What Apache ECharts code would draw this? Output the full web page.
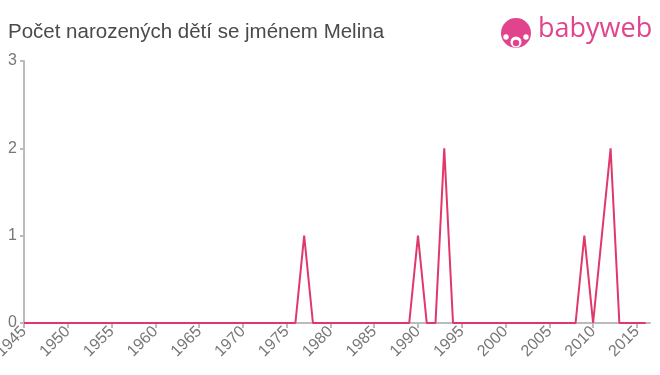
<!DOCTYPE html>
<html>
<head>
<meta charset="utf-8">
<script src="https://cdn.jsdelivr.net/npm/echarts@6/dist/echarts.min.js"></script>
<style>html,body{margin:0;padding:0;background:#fff;}#c{width:660px;height:375px;}</style>
</head>
<body>
<div id="c"></div>
<script>
var titleText = "Počet narozených dětí se jménem Melina";
var years = [1945,1946,1947,1948,1949,1950,1951,1952,1953,1954,
             1955,1956,1957,1958,1959,1960,1961,1962,1963,1964,
             1965,1966,1967,1968,1969,1970,1971,1972,1973,1974,
             1975,1976,1977,1978,1979,1980,1981,1982,1983,1984,
             1985,1986,1987,1988,1989,1990,1991,1992,1993,1994,
             1995,1996,1997,1998,1999,2000,2001,2002,2003,2004,
             2005,2006,2007,2008,2009,2010,2011,2012,2013,2014,
             2015,2016];
var counts = [0,0,0,0,0,0,0,0,0,0,
              0,0,0,0,0,0,0,0,0,0,
              0,0,0,0,0,0,0,0,0,0,
              0,0,1,0,0,0,0,0,0,0,
              0,0,0,0,0,1,0,0,2,0,
              0,0,0,0,0,0,0,0,0,0,
              0,0,0,0,1,0,1,2,0,0,
              0,0];
var yTicks = [0,1,2,3];

var chart = echarts.init(document.getElementById('c'));
var font = "'Liberation Sans', Arial, sans-serif";
var pink = '#e2438d';
chart.setOption({
  animation: false,
  title: {
    text: titleText, left: 3, top: 17,
    textStyle: {fontFamily: font, fontSize: 20.5, fontWeight: 'normal', color: '#4a4a4a'}
  },
  grid: {left: 24, right: 10, top: 61, bottom: 52, containLabel: false, outerBoundsMode: 'none'},
  xAxis: {
    type: 'value', min: 1945, max: 2016.5, interval: 5,
    axisLine: {lineStyle: {color: '#bbb', width: 2}},
    axisTick: {show: true, length: 5, lineStyle: {color: '#bbb', width: 2}},
    splitLine: {show: false},
    axisLabel: {rotate: 45, color: '#777', fontSize: 16, fontFamily: font, margin: 6,
      showMaxLabel: false, formatter: function(v){ return String(v); }}
  },
  yAxis: {
    type: 'value', min: yTicks[0], max: yTicks[yTicks.length-1], interval: 1,
    axisLine: {show: true, lineStyle: {color: '#bbb', width: 2}},
    axisTick: {show: true, length: 4, lineStyle: {color: '#bbb', width: 2}},
    splitLine: {show: false},
    axisLabel: {color: '#777', fontSize: 16, fontFamily: font, margin: 7}
  },
  series: [{
    type: 'line',
    data: years.map(function(y, i){ return [y, counts[i]]; }),
    symbol: 'none',
    lineStyle: {color: '#e0386b', width: 2},
    z: 3
  }],
  graphic: [
    {type: 'circle', shape: {cx: 516, cy: 33, r: 15}, style: {fill: pink}},
    {type: 'circle', shape: {cx: 516, cy: 42, r: 5.5}, style: {fill: '#fff'}},
    {type: 'circle', shape: {cx: 516, cy: 43, r: 3.2}, style: {fill: pink}},
    {type: 'circle', shape: {cx: 506, cy: 37, r: 2.7}, style: {fill: '#fff'}},
    {type: 'circle', shape: {cx: 526, cy: 37, r: 2.7}, style: {fill: '#fff'}},
    {type: 'text', left: 538, top: 16,
     style: {text: 'babyweb', fill: pink, font: "27px 'Open Sans', 'Liberation Sans', Arial, sans-serif"}}
  ]
});
</script>
</body>
</html>
